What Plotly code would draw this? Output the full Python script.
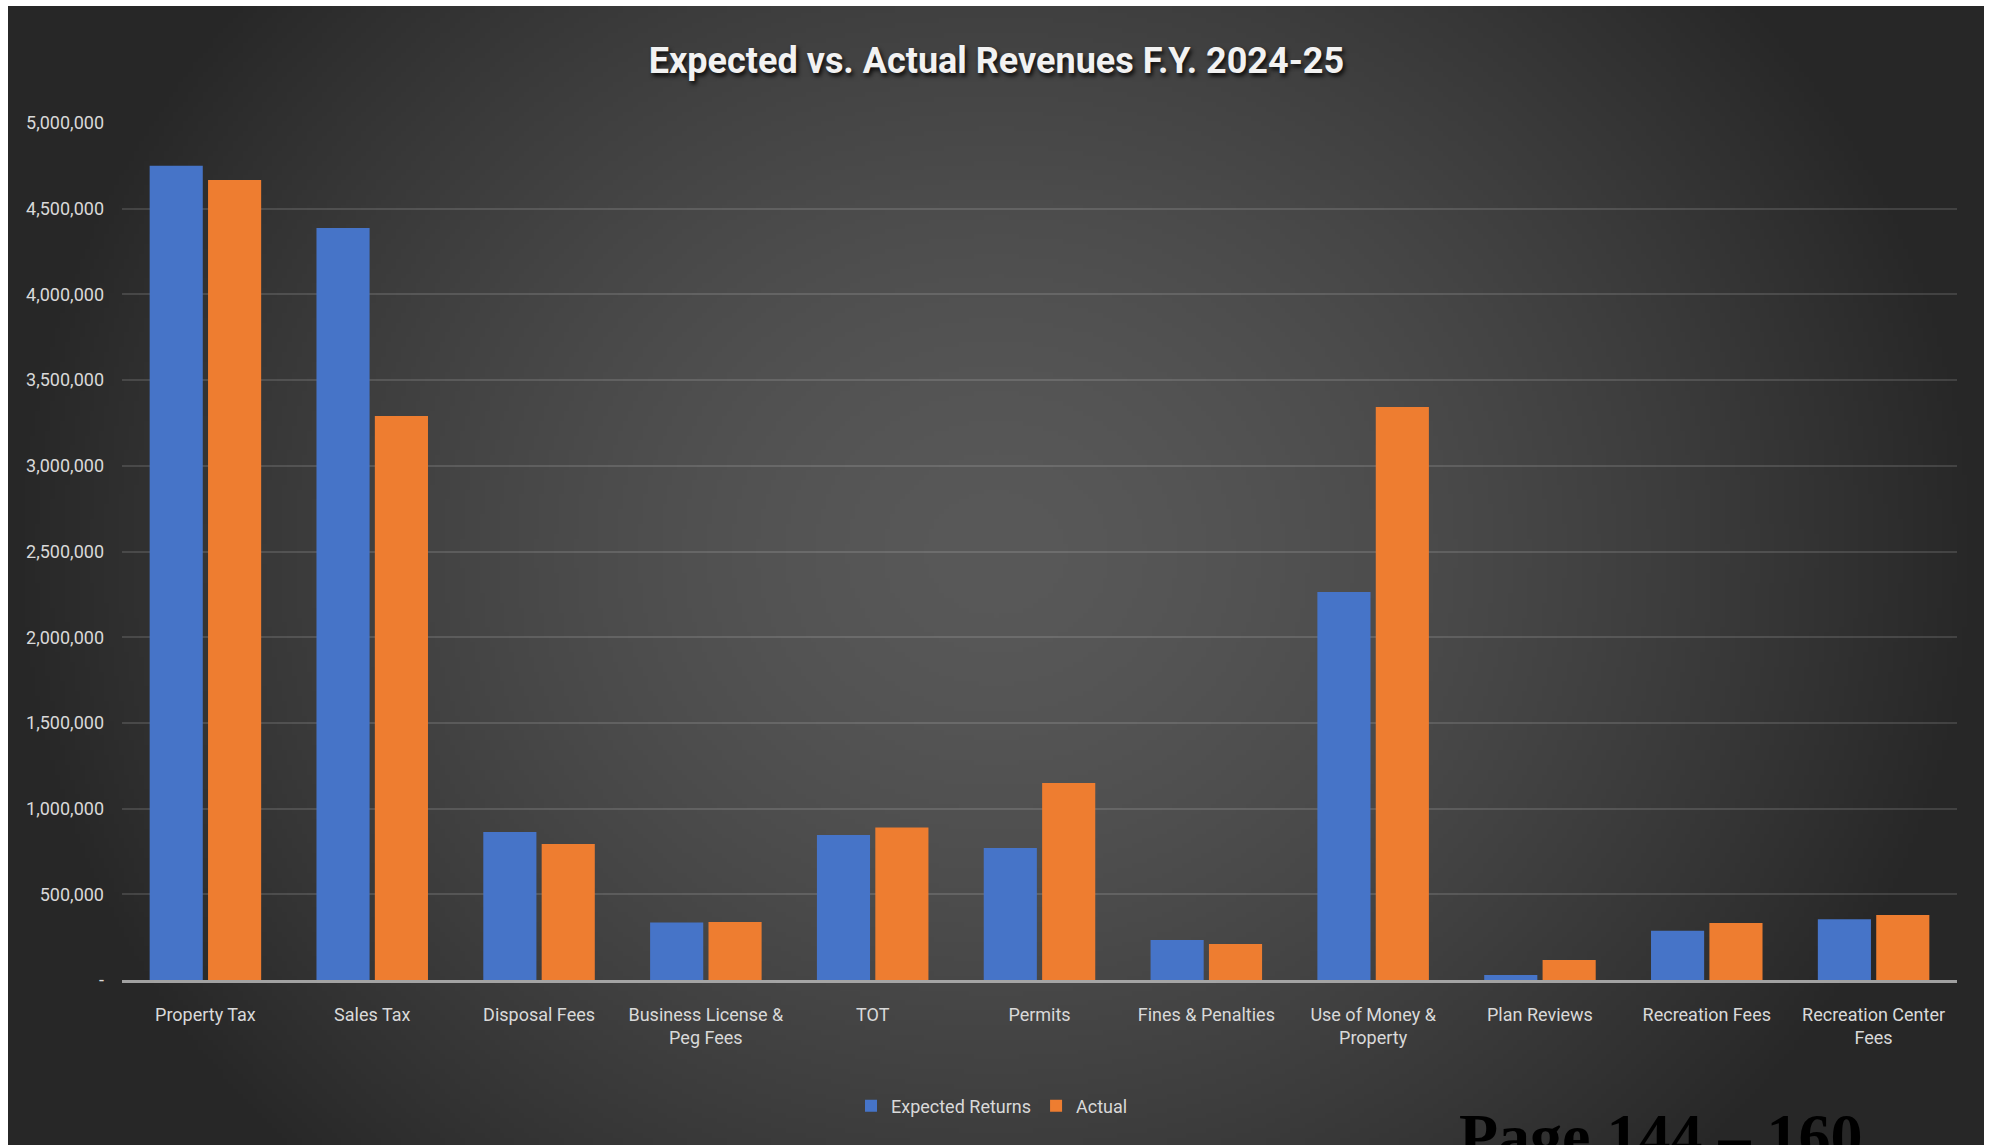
import base64
import struct
import zlib

import numpy as np
import plotly.graph_objects as go

# ---------------- data ----------------
categories = [
    "Property Tax",
    "Sales Tax",
    "Disposal Fees",
    "Business License &<br>Peg Fees",
    "TOT",
    "Permits",
    "Fines & Penalties",
    "Use of Money &<br>Property",
    "Plan Reviews",
    "Recreation Fees",
    "Recreation Center<br>Fees",
]
expected_returns = [4750000, 4387000, 863000, 335000, 846000, 770000, 233000, 2264000, 29000, 287000, 354000]
actual = [4667000, 3290000, 793000, 338000, 890000, 1149000, 210000, 3343000, 117000, 333000, 379000]

y_tick_vals = [0, 500000, 1000000, 1500000, 2000000, 2500000, 3000000, 3500000, 4000000, 4500000, 5000000]
y_tick_text = ["-", "500,000", "1,000,000", "1,500,000", "2,000,000", "2,500,000",
               "3,000,000", "3,500,000", "4,000,000", "4,500,000", "5,000,000"]

title_text = "Expected vs. Actual Revenues F.Y. 2024-25"
page_text = "Page 144 \u2013 160"

# ---------------- layout geometry ----------------
W, H = 1993, 1145
ML, MR, MT, MB = 122, 36, 123, 165
PW, PH = W - ML - MR, H - MT - MB

FONT = "Roboto, Liberation Sans Narrow, sans-serif"
TXT = "#D9D9D9"


# ---------------- radial background (generated PNG) ----------------
def make_png(gray):
    h, w = gray.shape
    raw = b"".join(b"\x00" + gray[r].tobytes() for r in range(h))

    def chunk(tag, data):
        c = struct.pack(">I", len(data)) + tag + data
        return c + struct.pack(">I", zlib.crc32(tag + data) & 0xFFFFFFFF)

    png = b"\x89PNG\r\n\x1a\n"
    png += chunk(b"IHDR", struct.pack(">IIBBBBB", w, h, 8, 0, 0, 0, 0))
    png += chunk(b"IDAT", zlib.compress(raw, 9))
    png += chunk(b"IEND", b"")
    return "data:image/png;base64," + base64.b64encode(png).decode()


gw, gh = 400, 232
gx = (np.arange(gw) + 0.5) / gw
gy = (np.arange(gh) + 0.5) / gh
X, Y = np.meshgrid(gx, gy)
t = np.sqrt((2.0 * (X - 0.5)) ** 2 + (1.3 * (Y - 0.48)) ** 2)
t = np.clip(t, 0, 1)
val = 89 - 50 * t ** 1.5
bg_img = make_png(np.clip(val, 0, 255).astype(np.uint8))

bx0, by0, bx1, by1 = 8, 6, 1984, 1145

fig = go.Figure()
fig.add_trace(go.Bar(
    name="Expected Returns", x=categories, y=expected_returns,
    marker=dict(color="#4674C8", line=dict(width=0)),
))
fig.add_trace(go.Bar(
    name="Actual", x=categories, y=actual,
    marker=dict(color="#EE7D30", line=dict(width=0)),
))

fig.update_layout(
    width=W, height=H,
    margin=dict(l=ML, r=MR, t=MT, b=MB, pad=0, autoexpand=False),
    paper_bgcolor="white",
    plot_bgcolor="rgba(0,0,0,0)",
    barmode="group",
    bargap=0.3,
    bargroupgap=0.09,
    font=dict(family=FONT, color=TXT, size=18),
    title=dict(
        text=title_text,
        x=0.5, xanchor="center",
        y=1 - 60 / H, yanchor="middle",
        font=dict(family=FONT, size=36, color="#F2F2F2", weight="bold",
                  shadow="2px 3px 4px rgba(0,0,0,0.85)"),
    ),
    showlegend=True,
    legend=dict(
        orientation="h",
        x=(992 - ML) / PW, xanchor="center",
        y=(MT + PH - 1106) / PH, yanchor="middle",
        font=dict(family=FONT, size=18, color=TXT),
        bgcolor="rgba(0,0,0,0)",
        itemwidth=30,
    ),
    images=[dict(
        source=bg_img,
        xref="paper", yref="paper",
        x=(bx0 - ML) / PW, y=1 + (MT - by0) / PH,
        sizex=(bx1 - bx0) / PW, sizey=(by1 - by0) / PH,
        sizing="stretch", xanchor="left", yanchor="top",
        layer="below",
    )],
    annotations=[dict(
        text="<b>" + page_text + "</b>",
        xref="paper", yref="paper",
        x=(1457 - ML) / PW, xanchor="left",
        y=(MT + PH - 1174) / PH, yanchor="bottom",
        showarrow=False,
        font=dict(family="Liberation Serif, Times New Roman, serif", size=64, color="black"),
    )],
)

fig.update_xaxes(
    type="category",
    automargin=False,
    showgrid=False,
    showline=True, linecolor="rgba(175,175,175,0.9)", linewidth=3,
    ticks="", ticklabelstandoff=16, tickangle=0,
    tickfont=dict(family=FONT, size=18, color=TXT),
)
fig.update_yaxes(
    automargin=False,
    range=[0, 5000000],
    tickvals=y_tick_vals, ticktext=y_tick_text,
    showgrid=True, gridcolor="rgba(255,255,255,0.13)", gridwidth=2,
    zeroline=False, showline=False,
    ticks="", ticklabelstandoff=17,
    tickfont=dict(family=FONT, size=18, color=TXT),
)

fig.write_html("out.html")
